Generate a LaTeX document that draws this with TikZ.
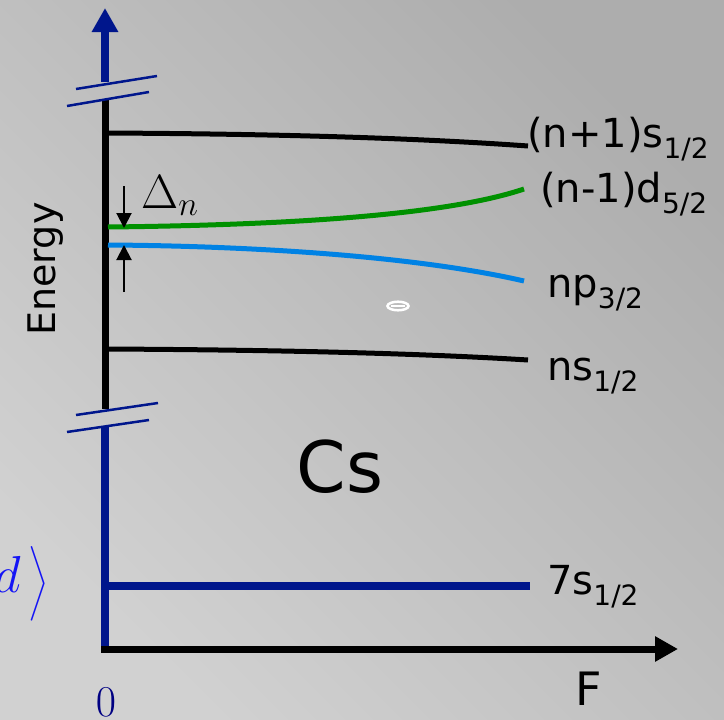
\RequirePackage{fix-cm}
\documentclass[tikz,border=0pt]{standalone}
\usepackage{exscale}
\usepackage{fontspec}
\setmainfont{DejaVu Sans}
\usepackage{tikz}
\usetikzlibrary{arrows.meta, positioning, calc}
\definecolor{axisnavy}{RGB}{0,22,140}
\definecolor{dgreen}{RGB}{0,145,0}
\definecolor{pblue}{RGB}{0,130,228}
\definecolor{ketblue}{RGB}{20,20,245}
\definecolor{zeronavy}{RGB}{0,0,130}
\newcommand{\half}[1]{\raisebox{-11pt}{\fontsize{28}{28}\selectfont #1}}
\tikzset{
  nax/.style={line width=8pt, axisnavy},
  kax/.style={line width=7pt, black},
  brk/.style={line width=2.5pt, axisnavy},
  lvl/.style={line width=5pt},
  dim/.style={-{Triangle[length=15pt, width=15pt]}, line width=2pt},
  lab/.style={anchor=base west, inner sep=0pt, font=\fontsize{40}{42}\selectfont},
}

\begin{document}
\begin{tikzpicture}[x=1pt, y=-1pt]
  \useasboundingbox (0,0) rectangle (724,720);
  \clip (0,0) rectangle (724,720);
  \shade[top color=black!32, middle color=black!30.5, bottom color=black!18, shading angle=-45] (0,0) rectangle (724,720);

  % axes
  \coordinate (o) at (101,649);
  \coordinate (ftip) at (678,649);
  \coordinate (etip) at (105,8);
  \draw[nax, -{Triangle[length=24pt, width=25pt]}] (105,82) -- (etip);
  \draw[kax] (105,100) -- (105,409);
  \draw[nax] (105,427) -- (105,648);
  \draw[kax, -{Triangle[length=23pt, width=24pt]}] (o) -- (ftip);
  \draw[brk] (76,89) -- (157,76);
  \draw[brk] (67,106) -- (149,92);
  \draw[brk] (76,415) -- (158,403);
  \draw[brk] (67,432) -- (149,420);

  % levels
  \coordinate (s1a) at (105,133);  \coordinate (s1b) at (528,146);
  \coordinate (dA) at (108,227);   \coordinate (dB) at (524,189);
  \coordinate (pA) at (108,245);   \coordinate (pB) at (524,281);
  \coordinate (nsA) at (105,349);  \coordinate (nsB) at (528,360);
  \coordinate (s7a) at (105,586);  \coordinate (s7b) at (530,586);
  \draw[lvl] (s1a) .. controls (300,134) and (430,139) .. (s1b);
  \draw[lvl, dgreen] (dA) .. controls (300,225) and (450,214) .. (dB);
  \draw[lvl, pblue] (pA) .. controls (260,246) and (420,257) .. (pB);
  \draw[lvl] (nsA) .. controls (300,350) and (430,354) .. (nsB);
  \draw[line width=8pt, axisnavy] (s7a) -- (s7b);

  \node[lab] (ls1) at (527,147) {(n+1)s\half{1/2}};
  \node[lab] (ld) at (540,202) {(n-1)d\half{5/2}};
  \node[lab] (lp) at (547,297) {np\half{3/2}};
  \node[lab] (lns) at (547,380) {ns\half{1/2}};
  \node[lab] (l7) at (547,594) {7s\half{1/2}};

  % splitting
  \draw[dim] (124,186) -- (124,228);
  \draw[dim] (124,292) -- (124,245);
  \node[anchor=base west, inner sep=0pt, font=\fontsize{48}{48}\selectfont] (dlt) at (141,208) {$\Delta_n$};

  \node[rotate=90, anchor=base, inner sep=0pt, font=\fontsize{38}{40}\selectfont] (elab) at (55,269) {Energy};
  \node[anchor=base, inner sep=0pt, font=\fontsize{71}{72}\selectfont] (cs) at (340,492) {Cs};
  \node[anchor=base, inner sep=0pt, font=\fontsize{46}{46}\selectfont] (flab) at (589,705) {F};
  \node[anchor=base, inner sep=0pt, text=zeronavy, font=\fontsize{44}{44}\selectfont] (zero) at (106,716) {$0$};
  \node[anchor=base east, inner sep=0pt, text=ketblue] (ket) at (49,592)
    {{\fontsize{52}{52}\selectfont$d$}\kern8pt{\fontsize{63}{63}\selectfont\raisebox{-8pt}{$\bigr\rangle$}}};

  \draw[white, line width=2.5pt] (398,306) ellipse [x radius=10.5, y radius=4.3];
  \draw[white, line width=2pt] (391,306) -- (405,306);
\end{tikzpicture}
\end{document}
